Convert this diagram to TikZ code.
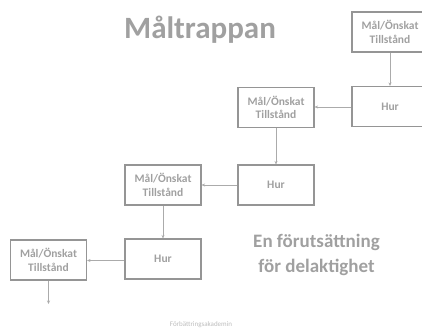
\documentclass[tikz,border=0pt]{standalone}
\usepackage{fontspec}
\setmainfont{Carlito}
\usetikzlibrary{arrows.meta}
\definecolor{txtgray}{HTML}{A0A0A0}
\definecolor{boxgray}{HTML}{959595}
\definecolor{arrgray}{HTML}{ABABAB}
\tikzset{
  stepbox/.style={draw=boxgray, line width=1.1pt, minimum width=76pt, minimum height=40pt, inner sep=0pt, align=center, text=txtgray, font=\bfseries\fontsize{11.5}{13.5}\selectfont},
  conn/.style={draw=arrgray, line width=0.7pt, -{Stealth[length=3.5pt,width=3pt]}}
}
\begin{document}
\begin{tikzpicture}[x=1pt,y=-1pt]
\useasboundingbox (0,0) rectangle (422,329);
\clip (0,0) rectangle (422,329);
\node[text=txtgray, font=\bfseries\fontsize{31}{36}\selectfont] (title) at (200,30) {Måltrappan};
\node[stepbox] (m1) at (390,32) {Mål/Önskat\\Tillstånd};
\node[stepbox] (h1) at (390,106.5) {Hur};
\node[stepbox] (m2) at (276,107.5) {Mål/Önskat\\Tillstånd};
\node[stepbox] (h2) at (276,185) {Hur};
\node[stepbox] (m3) at (163,185) {Mål/Önskat\\Tillstånd};
\node[stepbox] (h3) at (163,259) {Hur};
\node[stepbox] (m4) at (48.5,260) {Mål/Önskat\\Tillstånd};
\coordinate (end) at (48.5,304);
\draw[conn] (m1) -- (h1);
\draw[conn] (h1.west |- 0,107) -- (m2.east |- 0,107);
\draw[conn] (m2) -- (h2);
\draw[conn] (h2) -- (m3);
\draw[conn] (m3) -- (h3);
\draw[conn] (h3.west |- 0,260.5) -- (m4.east |- 0,260.5);
\draw[conn] (m4) -- (end);
\node[text=txtgray, align=center, font=\bfseries\fontsize{19}{25}\selectfont] (sub) at (316.5,255) {En förutsättning\\för delaktighet};
\node[text=txtgray!70, font=\fontsize{7}{8}\selectfont] (foot) at (201,325) {Förbättringsakademin};
\end{tikzpicture}
\end{document}
